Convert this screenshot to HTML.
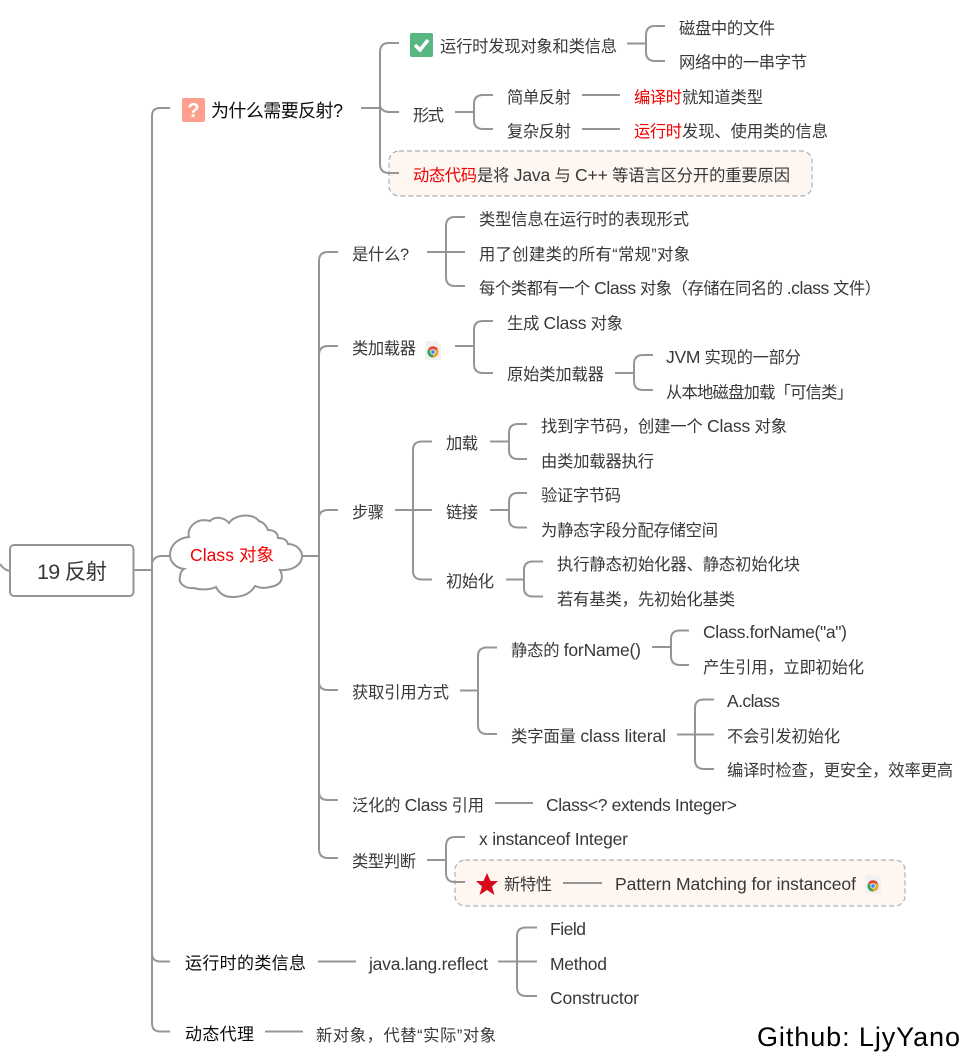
<!DOCTYPE html>
<html><head><meta charset="utf-8"><style>
html,body{margin:0;padding:0;background:#fff;width:964px;height:1058px;overflow:hidden}
svg{display:block;filter:blur(.35px)}
text{font-family:"Liberation Sans","Noto Sans CJK SC",sans-serif;font-size:16.300px;fill:#383838}
text.e,tspan.e{font-size:17.500px}
.b{fill:#0c0c0c}.r{fill:#f00000}
path.l{fill:none;stroke:#959595;stroke-width:2}
</style></head><body>
<svg width="964" height="1058" viewBox="0 0 964 1058" xmlns="http://www.w3.org/2000/svg">
<!-- dashed boxes -->
<rect x="389" y="151" width="423" height="45" rx="10" fill="#fdf6f1" stroke="#b0b0b0" stroke-width="1.200" stroke-dasharray="5 3"/>
<rect x="455" y="860" width="450" height="46" rx="10" fill="#fdf6f1" stroke="#b0b0b0" stroke-width="1.200" stroke-dasharray="5 3"/>
<!-- root -->
<path class="l" d="M0,564 Q4,570 10,571"/>
<rect x="10" y="545" width="123.500" height="51" rx="4" fill="#fff" stroke="#959595" stroke-width="2"/>
<path class="l" d="M134,570H152"/>
<!-- main spine -->
<path class="l" d="M170,108H160Q152,108 152,116V1023Q152,1031.500 160,1031.500H170"/>
<path class="l" d="M152,563Q154,556 162,556H172"/>
<path class="l" d="M152,953Q152,961.500 160,961.500H170"/>
<!-- 为什么 -->
<path class="l" d="M361,108H380"/>
<path class="l" d="M399,43H389Q380,43 380,52V164Q380,173 389,173H399"/>
<path class="l" d="M380,106Q382,112 390,112H399"/>
<path class="l" d="M627,43.500H646"/>
<path class="l" d="M665,26H655Q646,26 646,35V52Q646,61 655,61H665"/>
<path class="l" d="M455,112H474"/>
<path class="l" d="M493,95H483Q474,95 474,104V120Q474,129 483,129H493"/>
<path class="l" d="M582,95H620M582,129H620"/>
<!-- Class spine -->
<path class="l" d="M302,556H319"/>
<path class="l" d="M338,252H328Q319,252 319,261V849Q319,858 328,858H338"/>
<path class="l" d="M319,355Q319,346 328,346H338M319,518Q319,510 328,510H338M319,682Q319,690 328,690H338M319,792Q319,800 328,800H338"/>
<!-- 是什么 -->
<path class="l" d="M427,252H465"/>
<path class="l" d="M465,217H455Q446,217 446,226V277Q446,286 455,286H465"/>
<!-- 类加载器 -->
<path class="l" d="M455,346H474"/>
<path class="l" d="M493,321H483Q474,321 474,330V364Q474,373 483,373H493"/>
<path class="l" d="M615,373H634"/>
<path class="l" d="M653,355H643Q634,355 634,364V381Q634,390 643,390H653"/>
<!-- 步骤 -->
<path class="l" d="M395,510H432"/>
<path class="l" d="M432,441.500H422Q413,441.500 413,450V571Q413,579.500 422,579.500H432"/>
<path class="l" d="M490,441.500H509"/>
<path class="l" d="M527,424H518Q509,424 509,433V450Q509,459 518,459H527"/>
<path class="l" d="M490,510H509"/>
<path class="l" d="M527,493H518Q509,493 509,502V519Q509,527.500 518,527.500H527"/>
<path class="l" d="M506,579.500H524"/>
<path class="l" d="M543,561.500H533Q524,561.500 524,570V588Q524,596.500 533,596.500H543"/>
<!-- 获取 -->
<path class="l" d="M460,690.500H478"/>
<path class="l" d="M497,647.500H487Q478,647.500 478,656V725Q478,734 487,734H497"/>
<path class="l" d="M652,647H671"/>
<path class="l" d="M689,630.500H680Q671,630.500 671,639V656Q671,665 680,665H689"/>
<path class="l" d="M677,734.500H714"/>
<path class="l" d="M714,699.500H704Q695,699.500 695,708V760Q695,769 704,769H714"/>
<path class="l" d="M495,803H533"/>
<!-- 类型判断 -->
<path class="l" d="M427,860H446"/>
<path class="l" d="M465,837H455Q446,837 446,846V873Q446,882 455,882H465"/>
<path class="l" d="M563,883H602"/>
<!-- bottom -->
<path class="l" d="M318,961.500H356"/>
<path class="l" d="M498,961.500H537"/>
<path class="l" d="M537,927.500H526Q517,927.500 517,936V987Q517,996 526,996H537"/>
<path class="l" d="M265,1031.500H303"/>
<!-- cloud -->
<path d="M170,555 C170,545 178,538 189,537 C186,527 198,517 210,521 C215,516 224,517 229,523 C234,515 252,512 259,521 C265,523 267,527 268,530 C275,530 278,534 278,538 C283,538 287,540 288,544 C296,544 302,550 302,556 C302,565 292,571 280,570 C284,578 282,585 270,587 C262,589 258,587 255,586 C250,595 240,597 232,597 C224,597 219,593 216,587 C210,590 200,590 194,588 C186,589 178,584 180,577 C180,573 182,570 184,569 C176,568 170,562 170,555Z" fill="#fff" stroke="#959595" stroke-width="2"/>
<!-- icons -->
<rect x="182" y="98" width="23" height="24" rx="2" fill="#ff9f8e"/>
<text x="193.500" y="117" text-anchor="middle" style="font-size:20px;font-weight:bold;fill:#fff">?</text>
<rect x="410" y="33" width="23" height="24" rx="2" fill="#58b680"/>
<path d="M415,45L420,50L428,40" fill="none" stroke="#fff" stroke-width="3.500"/>
<path d="M487,873L490.500,881H498L492,886.500L494.500,895L487,890L479.500,895L482,886.500L476,881H483.500Z" fill="#d9091c"/>
<g>
<path d="M425,341H437L441,345V360H425Z" fill="#f1f1f1"/>
<circle cx="433" cy="352" r="5.500" fill="#e8a52a"/>
<path d="M428,349.500A5.500,5.500 0 0 1 438,349.500H433Z" fill="#d9483b"/>
<path d="M428,349.500A5.500,5.500 0 0 0 433,357.500L433,352Z" fill="#3da35a"/>
<circle cx="433" cy="352" r="2.300" fill="#4285f4" stroke="#fff" stroke-width=".8"/>
</g>
<g transform="translate(440,534)">
<path d="M425,341H437L441,345V360H425Z" fill="#f1f1f1"/>
<circle cx="433" cy="352" r="5.500" fill="#e8a52a"/>
<path d="M428,349.500A5.500,5.500 0 0 1 438,349.500H433Z" fill="#d9483b"/>
<path d="M428,349.500A5.500,5.500 0 0 0 433,357.500L433,352Z" fill="#3da35a"/>
<circle cx="433" cy="352" r="2.300" fill="#4285f4" stroke="#fff" stroke-width=".8"/>
</g>
<!-- text -->
<text x="37" y="579" textLength="70" style="font-size:21.500px">19 反射</text>
<text x="190" y="561" textLength="84" class="r" style="font-size:17.500px">Class 对象</text>
<text x="211" y="117" textLength="132" class="b" style="font-size:18px">为什么需要反射?</text>
<text x="440" y="52" textLength="177">运行时发现对象和类信息</text>
<text x="679" y="34" textLength="96">磁盘中的文件</text>
<text x="679" y="68" textLength="128">网络中的一串字节</text>
<text x="413" y="121" textLength="31">形式</text>
<text x="507" y="103" textLength="64">简单反射</text>
<text x="507" y="137" textLength="64">复杂反射</text>
<text x="634" y="103" textLength="48" class="r">编译时</text><text x="682" y="103" textLength="81">就知道类型</text>
<text x="634" y="137" textLength="48" class="r">运行时</text><text x="682" y="137" textLength="146">发现、使用类的信息</text>
<text x="413" y="181" textLength="64" class="r">动态代码</text><text x="477" y="181" textLength="313">是将 <tspan class="e">Java</tspan> 与 <tspan class="e">C++</tspan> 等语言区分开的重要原因</text>
<text x="352" y="260" textLength="57">是什么?</text>
<text x="479" y="225" textLength="210">类型信息在运行时的表现形式</text>
<text x="479" y="260" textLength="211">用了创建类的所有“常规”对象</text>
<text x="479" y="294" textLength="402">每个类都有一个 <tspan class="e">Class</tspan> 对象（存储在同名的 <tspan class="e">.class</tspan> 文件）</text>
<text x="352" y="354" textLength="64">类加载器</text>
<text x="507" y="329" textLength="116">生成 <tspan class="e">Class</tspan> 对象</text>
<text x="507" y="380" textLength="97">原始类加载器</text>
<text x="666" y="363" textLength="135"><tspan class="e">JVM</tspan> 实现的一部分</text>
<text x="666" y="398" textLength="187">从本地磁盘加载「可信类」</text>
<text x="352" y="518" textLength="32">步骤</text>
<text x="446" y="449" textLength="32">加载</text>
<text x="446" y="518" textLength="32">链接</text>
<text x="446" y="587" textLength="48">初始化</text>
<text x="541" y="432" textLength="246">找到字节码，创建一个 <tspan class="e">Class</tspan> 对象</text>
<text x="541" y="467" textLength="113">由类加载器执行</text>
<text x="541" y="501" textLength="80">验证字节码</text>
<text x="541" y="536" textLength="177">为静态字段分配存储空间</text>
<text x="557" y="570" textLength="243">执行静态初始化器、静态初始化块</text>
<text x="557" y="605" textLength="178">若有基类，先初始化基类</text>
<text x="352" y="698" textLength="97">获取引用方式</text>
<text x="511" y="656" textLength="130">静态的 <tspan class="e">forName()</tspan></text>
<text x="511" y="742" textLength="155">类字面量 <tspan class="e">class literal</tspan></text>
<text x="703" y="638" textLength="144" class="e">Class.forName("a")</text>
<text x="703" y="673" textLength="161">产生引用，立即初始化</text>
<text x="727" y="707" textLength="53" class="e">A.class</text>
<text x="727" y="742" textLength="113">不会引发初始化</text>
<text x="727" y="776" textLength="226">编译时检查，更安全，效率更高</text>
<text x="352" y="811" textLength="132">泛化的 <tspan class="e">Class</tspan> 引用</text>
<text x="546" y="811" textLength="191" class="e">Class&lt;? extends Integer&gt;</text>
<text x="352" y="867" textLength="64">类型判断</text>
<text x="479" y="845" textLength="149" class="e">x instanceof Integer</text>
<text x="504" y="890" textLength="48">新特性</text>
<text x="615" y="890" textLength="241" class="e">Pattern Matching for instanceof</text>
<text x="185" y="969" textLength="121" class="b" style="font-size:17px">运行时的类信息</text>
<text x="369" y="970" textLength="119" class="e">java.lang.reflect</text>
<text x="550" y="935" textLength="36" class="e">Field</text>
<text x="550" y="970" textLength="57" class="e">Method</text>
<text x="550" y="1004" textLength="89" class="e">Constructor</text>
<text x="185" y="1040" textLength="69" class="b" style="font-size:17px">动态代理</text>
<text x="316" y="1041" textLength="180">新对象，代替“实际”对象</text>
<text x="757" y="1046" textLength="203" style="font-size:27px;fill:#000">Github: LjyYano</text>
</svg>
</body></html>
